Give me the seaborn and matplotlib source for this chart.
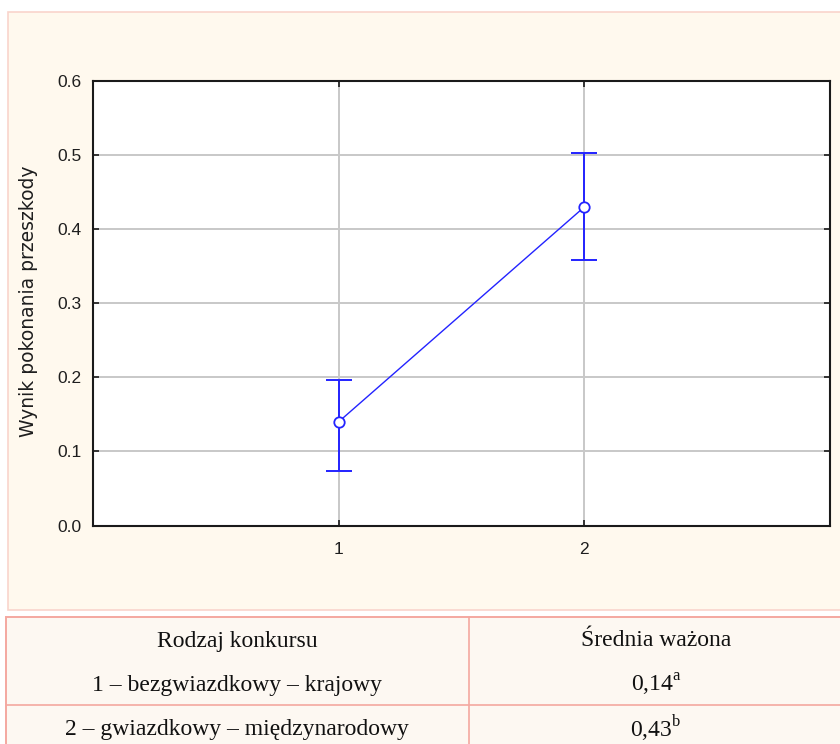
import numpy as np
import pandas as pd
import matplotlib
matplotlib.use("Agg")
import matplotlib.pyplot as plt
from matplotlib.patches import Rectangle
from matplotlib.lines import Line2D
import seaborn as sns

# Competition type codes, weighted means and interval bounds
groups = [1, 2]
means = [0.14, 0.43]
lower = [0.074, 0.358]
upper = [0.197, 0.503]

y_ticks = [0.0, 0.1, 0.2, 0.3, 0.4, 0.5, 0.6]
x_ticks = [1, 2]
y_label = "Wynik pokonania przeszkody"

table_header = ["Rodzaj konkursu", "Średnia ważona"]
group_names = ["1 – bezgwiazdkowy – krajowy", "2 – gwiazdkowy – międzynarodowy"]
group_marks = ["a", "b"]

sns.set_theme(style="white")
plt.rcParams["font.family"] = ["Liberation Sans", "DejaVu Sans"]
plt.rcParams["mathtext.fontset"] = "custom"
plt.rcParams["mathtext.rm"] = "Liberation Serif"

W, H = 840, 744
fig = plt.figure(figsize=(W / 100, H / 100), dpi=100)
fig.patch.set_facecolor("white")


def fx(px):
    return px / W


def fy(py):
    return 1 - py / H


# Chart panel background with border
fig.add_artist(Rectangle((fx(8), fy(610)), fx(840), fy(12) - fy(610),
                         transform=fig.transFigure, facecolor="#fff9ee",
                         edgecolor="#f9d4cc", linewidth=1.2, zorder=0))

ax = fig.add_axes([fx(93), fy(525.5), fx(830) - fx(93), fy(81) - fy(525.5)])
ax.set_facecolor("white")

df = pd.DataFrame({"grupa": groups, "wynik": means,
                   "dol": lower, "gora": upper})

blue = "#2323ff"
yerr = np.array([df["wynik"] - df["dol"], df["gora"] - df["wynik"]])
ax.errorbar(df["grupa"], df["wynik"], yerr=yerr, fmt="none", ecolor=blue,
            elinewidth=1.4, capsize=9.4, capthick=1.4, zorder=3)
sns.lineplot(data=df, x="grupa", y="wynik", ax=ax, color=blue, linewidth=1.0,
             marker="o", markersize=7.5, markerfacecolor="white",
             markeredgecolor=blue, markeredgewidth=1.3, zorder=4)

ax.set_xlim(0, 3)
ax.set_ylim(0, 0.6)
ax.set_xticks(x_ticks)
ax.set_xticklabels([str(t) for t in x_ticks])
ax.set_yticks(y_ticks)
ax.set_yticklabels([f"{t:.1f}" for t in y_ticks])
ax.grid(True, color="#c8c8c8", linewidth=1.4)
ax.set_axisbelow(True)
for sp in ax.spines.values():
    sp.set_visible(True)
    sp.set_color("#1a1a1a")
    sp.set_linewidth(1.5)
ax.tick_params(axis="both", direction="in", length=4, width=1.2, color="#1a1a1a",
               top=True, right=True, left=True, bottom=True,
               labelsize=12.5, labelcolor="#1e1e1e")
ax.tick_params(axis="y", pad=8)
ax.tick_params(axis="x", pad=12)
ax.set_xlabel("")
ax.set_ylabel(y_label, fontsize=13.5, color="#1e1e1e",
              family=["DejaVu Sans"])
ax.yaxis.set_label_coords(-0.075, 0.505)

# Summary table below the chart
line_col = "#f4a8a0"
fig.add_artist(Rectangle((fx(6), fy(760)), fx(840), fy(617) - fy(760),
                         transform=fig.transFigure, facecolor="#fdf8f2",
                         edgecolor=line_col, linewidth=1.4, zorder=0))
fig.add_artist(Line2D([fx(469), fx(469)], [fy(617), fy(744)],
                      transform=fig.transFigure, color=line_col, linewidth=1.2))
fig.add_artist(Line2D([fx(6), fx(840)], [fy(705), fy(705)],
                      transform=fig.transFigure, color=line_col, linewidth=1.2))

col_x = [fx(237), fx(656)]
row_y = [fy(641), fy(685), fy(729)]
serif = dict(family=["Liberation Serif", "DejaVu Serif"], fontsize=17,
             color="#111111", ha="center", va="center")
fig.text(col_x[0], row_y[0], table_header[0], **serif)
fig.text(col_x[1], row_y[0], table_header[1], **serif)
for i, (name, m, mark) in enumerate(zip(group_names, means, group_marks)):
    fig.text(col_x[0], row_y[i + 1], name, **serif)
    val = f"{m:.2f}".replace(".", ",")
    fig.text(col_x[1], row_y[i + 1], val + r"$^{\mathrm{" + mark + "}}$", **serif)

fig.savefig("out.png", dpi=100)
